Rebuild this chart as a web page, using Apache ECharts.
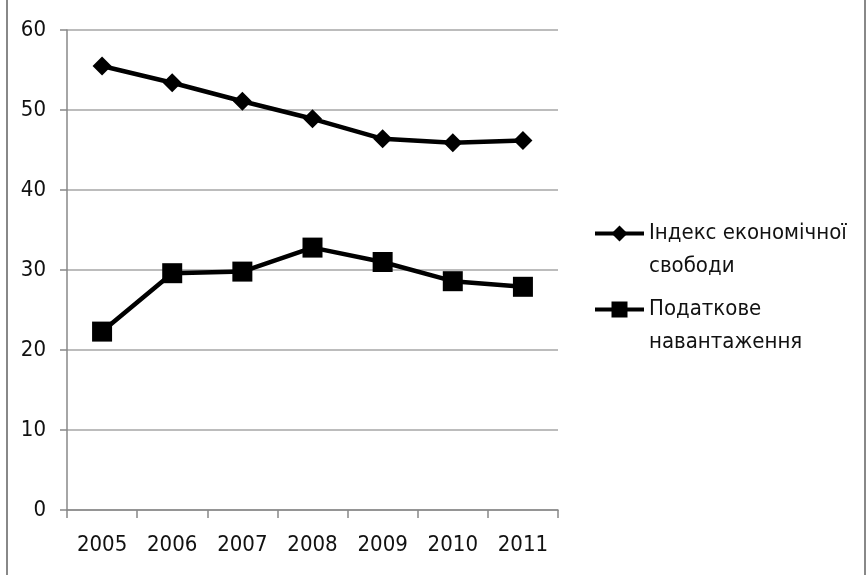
<!DOCTYPE html>
<html><head><meta charset="utf-8">
<script src="https://cdn.jsdelivr.net/npm/echarts@6/dist/echarts.min.js"></script>
<style>html,body{margin:0;padding:0;background:#fff}#c{width:866px;height:575px}</style>
</head><body><div id="c"></div>
<script>
const years = ['2005','2006','2007','2008','2009','2010','2011'];
const freedomName = 'Індекс економічної свободи';
const taxName = 'Податкове навантаження';
const freedomIndex = [55.5, 53.4, 51.1, 48.9, 46.4, 45.9, 46.2];
const taxBurden = [22.3, 29.6, 29.8, 32.8, 31.0, 28.6, 27.9];
const yTicks = [0, 10, 20, 30, 40, 50, 60];

const FONT = '"Liberation Sans Narrow", "DejaVu Sans Condensed", "Liberation Sans", sans-serif';
const chart = echarts.init(document.getElementById('c'), null, {renderer:'canvas'});
const legendText = {
  [freedomName]: '\nІндекс економічної\nсвободи',
  [taxName]: '\nПодаткове\nнавантаження'
};
const legendCommon = {
  orient: 'vertical', left: 593, itemWidth: 49, itemHeight: 20, padding: 0,
  selectedMode: false,
  lineStyle: {width: 4, color: '#000'},
  formatter: n => legendText[n],
  textStyle: {fontFamily: FONT, fontSize: 22, color: '#111', lineHeight: 33}
};
chart.setOption({
  animation: false,
  grid: {left: 67, right: 308, top: 30, bottom: 65},
  legend: [
    Object.assign({}, legendCommon, {top: 184, data: [freedomName]}),
    Object.assign({}, legendCommon, {top: 260, data: [taxName]})
  ],
  xAxis: {
    type: 'category', data: years, boundaryGap: true,
    axisLine: {lineStyle: {color: '#888', width: 1.5}},
    axisTick: {show: true, length: 8, lineStyle: {color: '#888', width: 1.5}},
    axisLabel: {fontFamily: FONT, fontSize: 22, color: '#111', margin: 24}
  },
  yAxis: {
    type: 'value', min: yTicks[0], max: yTicks[yTicks.length-1], interval: 10,
    axisLine: {show: true, lineStyle: {color: '#888', width: 1.5}},
    axisTick: {show: true, length: 7, lineStyle: {color: '#888', width: 1.5}},
    splitLine: {lineStyle: {color: '#a6a6a6', width: 1.5}},
    axisLabel: {fontFamily: FONT, fontSize: 22, color: '#111', margin: 21}
  },
  series: [
    {name: freedomName, type: 'line', data: freedomIndex, symbol: 'diamond', symbolSize: 19,
     lineStyle: {color: '#000', width: 4.5}, itemStyle: {color: '#000'}},
    {name: taxName, type: 'line', data: taxBurden, symbol: 'rect', symbolSize: 20,
     lineStyle: {color: '#000', width: 4.5}, itemStyle: {color: '#000'}}
  ],
  graphic: [
    {type: 'line', shape: {x1: 7, y1: 0, x2: 7, y2: 575}, style: {stroke: '#888', lineWidth: 2}},
    {type: 'line', shape: {x1: 865, y1: 0, x2: 865, y2: 575}, style: {stroke: '#888', lineWidth: 2}}
  ]
});
</script></body></html>
